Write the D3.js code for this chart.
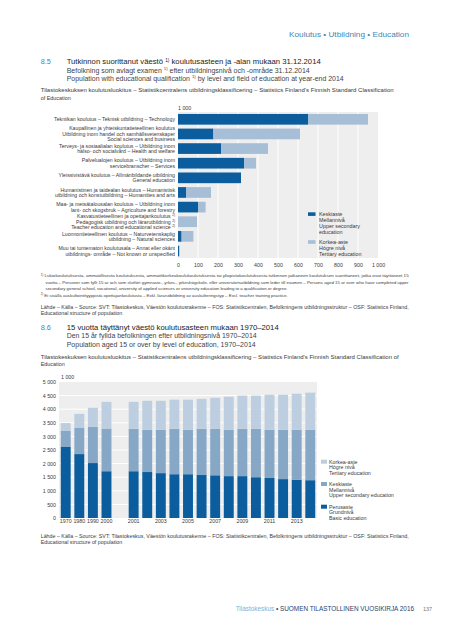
<!DOCTYPE html>
<html><head><meta charset="utf-8">
<script src="https://cdn.jsdelivr.net/npm/d3@7"></script>
<style>body{margin:0;background:#fff}svg{display:block}text{font-family:"Liberation Sans",Arial,sans-serif}</style>
</head><body><svg id="c" width="450" height="640"></svg>
<script>
// ---------- Chart 8.5 data (thousands) ----------
const fieldLabels = [
  ["Tekniikan koulutus – Teknisk utbildning – Technology"],
  ["Kaupallinen ja yhteiskuntatieteellinen koulutus","Utbildning inom handel och samhällsvetenskaper","Social sciences and business"],
  ["Terveys- ja sosiaalialan koulutus – Utbildning inom","hälso- och socialvård – Health and welfare"],
  ["Palvelualojen koulutus – Utbildning inom","servicebranscher – Services"],
  ["Yleissivistävä koulutus – Allmänbildande utbildning","General education"],
  ["Humanistinen ja taidealan koulutus – Humanistisk","utbildning och konstutbildning – Humanities and arts"],
  ["Maa- ja metsätalousalan koulutus – Utbildning inom","lant- och skogsbruk – Agriculture and forestry"],
  ["Kasvatustieteellinen ja opettajankoulutus {2)}","Pedagogisk utbildning och lärarutbildning {2)}","Teacher education and educational science {2)}"],
  ["Luonnontieteellinen koulutus – Naturvetenskaplig","utbildning – Natural sciences"],
  ["Muu tai tuntematon koulutusala – Annat eller okänt","utbildnings- område – Not known or unspecified"]
];
const upperSecondary85 = [650, 177, 215, 330, 315, 40, 100, 0, 18, 6];
const tertiary85       = [300, 433, 235, 60, 0, 125, 38, 95, 59, 0];
const xTicks85 = [0,100,200,300,400,500,600,700,800,900,1000];

// ---------- Chart 8.6 data (thousands) ----------
const years = ["1970","1980","1990","2000","2001","2002","2003","2004","2005","2006","2007","2008","2009","2010","2011","2012","2013","2014"];
const basic86    = [2610,2350,2020,1720,1720,1690,1650,1610,1610,1580,1570,1540,1540,1500,1470,1430,1400,1390];
const upper86    = [ 590, 960,1330,1570,1560,1550,1590,1670,1630,1700,1710,1700,1740,1780,1770,1810,1840,1850];
const tertiary86 = [ 290, 520, 700, 980, 990,1070,1070,1070,1110,1100,1140,1220,1220,1220,1290,1290,1330,1370];
const xTickLabels86 = ["1970","1980","1990","2000","2001","2003","2005","2007","2009","2011","2013"];
const yTicks86 = [0,500,1000,1500,2000,2500,3000,3500,4000,4500,5000];

const C = {dark:"#0b5d9d", mid:"#86a7c5", light:"#bccee0", light1:"#a6bed6", bg:"#eeeeee", text:"#3a3a3a", teal:"#3d88b8"};
const fmt = v => v >= 1000 ? d3.format(",")(v).replace(",", " ") : String(v);

const svg = d3.select("#c");

function txt(sel, x, y, s, o = {}) {
  const size = o.size || 5.3;
  const t = sel.append("text").attr("x", x).attr("y", y).attr("font-size", size)
    .attr("fill", o.fill || C.text).attr("text-anchor", o.anchor || "start");
  if (o.weight) t.attr("font-weight", o.weight);
  if (o.spacing) t.attr("letter-spacing", o.spacing);
  let pend = 0;
  s.split(/(\{[^}]*\})/).forEach(p => {
    if (!p) return;
    if (p.startsWith("{")) {
      t.append("tspan").attr("font-size", size * 0.62).attr("dy", pend - size * 0.38).text(p.slice(1, -1));
      pend = size * 0.38;
    } else {
      t.append("tspan").attr("dy", pend).text(p);
      pend = 0;
    }
  });
  if (o.len) t.attr("textLength", o.len).attr("lengthAdjust", "spacingAndGlyphs");
  return t;
}

// ---------- Header ----------
txt(svg, 409, 37, "Koulutus • Utbildning • Education", {size: 7, fill: C.teal, anchor: "end", len: 120});

// ---------- Section 8.5 ----------
txt(svg, 40.7, 64.3, "8.5", {size: 7.3, fill: C.teal});
txt(svg, 66.7, 64.3, "Tutkinnon suorittanut väestö {1)} koulutusasteen ja -alan mukaan 31.12.2014", {size: 7.3, fill: "#222", len: 254});
txt(svg, 66.7, 72.6, "Befolkning som avlagt examen {1)} efter utbildningsnivå och -område 31.12.2014", {size: 6.4, fill: "#444", len: 243});
txt(svg, 66.7, 80.6, "Population with educational qualification {1)} by level and field of education at year-end 2014", {size: 6.4, fill: "#444", len: 277});
txt(svg, 40.7, 92.2, "Tilastokeskuksen koulutusluokitus – Statistikcentralens utbildningsklassificering – Statistics Finland's Finnish Standard Classification", {size: 5.4, len: 353});
txt(svg, 40.7, 99.6, "of Education", {size: 5.4});

const g1 = svg.append("g");
const x1 = d3.scaleLinear().domain([0, 1000]).range([178, 378]);
const y1 = d3.scaleBand().domain(d3.range(fieldLabels.length)).range([112.5, 257.8]).paddingInner(0.27).paddingOuter(0.1);

g1.append("rect").attr("x", x1(0)).attr("y", 112).attr("width", x1(1000) - x1(0)).attr("height", 258 - 112).attr("fill", C.bg);
g1.selectAll("line.grid").data(xTicks85.slice(1, -1)).join("line").attr("class", "grid")
  .attr("x1", d => x1(d)).attr("x2", d => x1(d)).attr("y1", 112).attr("y2", 258)
  .attr("stroke", "#fff").attr("stroke-width", 1);

g1.selectAll("rect.up").data(upperSecondary85).join("rect").attr("class", "up")
  .attr("x", x1(0)).attr("y", (d, i) => y1(i)).attr("height", y1.bandwidth())
  .attr("width", d => x1(d) - x1(0)).attr("fill", C.dark);
g1.selectAll("rect.te").data(tertiary85).join("rect").attr("class", "te")
  .attr("x", (d, i) => x1(upperSecondary85[i])).attr("y", (d, i) => y1(i)).attr("height", y1.bandwidth())
  .attr("width", d => x1(d) - x1(0)).attr("fill", C.light1);

// category labels
fieldLabels.forEach((lines, i) => {
  const cy = y1(i) + y1.bandwidth() / 2;
  lines.forEach((l, j) => {
    txt(g1, 175, cy + (j - (lines.length - 1) / 2) * 5.4 + 1.85, l, {size: 5.2, anchor: "end"});
  });
});

// x axis
const ax1 = g1.append("g").attr("transform", "translate(0,263)")
  .call(d3.axisBottom(x1).tickValues(xTicks85).tickFormat(fmt).tickSize(0).tickPadding(0));
ax1.select(".domain").remove();
ax1.selectAll("text").attr("font-size", 5.3).attr("fill", C.text).attr("font-family", "Liberation Sans, Arial, sans-serif").attr("dy", "0.71em");
txt(g1, 178, 110, "1 000", {size: 5.3});

// legend 1
const leg1 = [
  {c: C.dark, lines: ["Keskiaste", "Mellannivå", "Upper secondary", "education"], y: 212.3},
  {c: C.light1, lines: ["Korkea-aste", "Högre nivå", "Tertiary education"], y: 240.2}
];
leg1.forEach(L => {
  g1.append("rect").attr("x", 308).attr("y", L.y).attr("width", 7.5).attr("height", 3.6).attr("fill", L.c);
  L.lines.forEach((l, j) => txt(g1, 319, L.y + 3.7 + j * 6.1, l, {size: 5.4}));
});

// footnotes
txt(svg, 40.7, 277.2, "{1)} Lukiokoulutuksesta, ammatillisesta koulutuksesta, ammattikorkeakoulukoulutuksesta tai yliopistokoulutuksesta tutkinnon jatkaneen koulutuksen suorittaneet, jotka ovat täyttäneet 15", {size: 4.3, len: 368});
txt(svg, 45.5, 284.2, "vuotta – Personer som fyllt 15 år och som slutfört gymnasie-, yrkes-, yrkeshögskole- eller universitetsutbildning som leder till examen – Persons aged 15 or over who have completed upper", {size: 4.3, len: 363});
txt(svg, 45.5, 289.8, "secondary general school, vocational, university of applied sciences or university education leading to a qualification or degree.", {size: 4.3, len: 242});
txt(svg, 40.7, 296.5, "{2)} Ei sisällä auskultointityyppistä opettajankoulutusta – Exkl. lärarutbildning av auskulteringstyp – Excl. teacher training practice.", {size: 4.3, len: 247});
txt(svg, 40.7, 308.6, "Lähde – Källa – Source: SVT: Tilastokeskus, Väestön koulutusrakenne – FOS: Statistikcentralen, Befolkningens utbildningsstruktur – OSF: Statistics Finland,", {size: 5.3, len: 368});
txt(svg, 40.7, 314.6, "Educational structure of population", {size: 5.3});

// ---------- Section 8.6 ----------
txt(svg, 40.7, 330, "8.6", {size: 7.3, fill: C.teal});
txt(svg, 66.7, 330, "15 vuotta täyttänyt väestö koulutusasteen mukaan 1970–2014", {size: 7.3, fill: "#222", len: 212});
txt(svg, 66.7, 338.3, "Den 15 år fyllda befolkningen efter utbildningsnivå 1970–2014", {size: 6.4, fill: "#444", len: 190});
txt(svg, 66.7, 347, "Population aged 15 or over by level of education, 1970–2014", {size: 6.4, fill: "#444", len: 189});
txt(svg, 40.7, 358.6, "Tilastokeskuksen koulutusluokitus – Statistikcentralens utbildningsklassificering – Statistics Finland's Finnish Standard Classification of", {size: 5.4, len: 358});
txt(svg, 40.7, 366.2, "Education", {size: 5.4});

const g2 = svg.append("g");
const domain86 = [...years.slice(0, 4), "__gap__", ...years.slice(4)];
const x2 = d3.scaleBand().domain(domain86).range([59, 317]).paddingInner(0.27).paddingOuter(0.13);
const y2 = d3.scaleLinear().domain([0, 5000]).range([518, 382]);

g2.append("rect").attr("x", 59).attr("y", y2(5000)).attr("width", 317 - 59).attr("height", y2(0) - y2(5000)).attr("fill", C.bg);
g2.selectAll("line.grid").data(yTicks86.slice(1, -1)).join("line").attr("class", "grid")
  .attr("x1", 59).attr("x2", 317).attr("y1", d => y2(d)).attr("y2", d => y2(d))
  .attr("stroke", "#fff").attr("stroke-width", 1);

const stackData = years.map((yr, i) => ({year: yr, basic: basic86[i], upper: upper86[i], tertiary: tertiary86[i]}));
const series = d3.stack().keys(["basic", "upper", "tertiary"])(stackData);
const col2 = {basic: C.dark, upper: C.mid, tertiary: C.light};
g2.selectAll("g.s").data(series).join("g").attr("class", "s").attr("fill", d => col2[d.key])
  .selectAll("rect").data(d => d).join("rect")
  .attr("x", d => x2(d.data.year)).attr("width", x2.bandwidth())
  .attr("y", d => y2(d[1])).attr("height", d => y2(d[0]) - y2(d[1]));

const ay2 = g2.append("g").attr("transform", "translate(56,0)")
  .call(d3.axisLeft(y2).tickValues(yTicks86).tickFormat(fmt).tickSize(0).tickPadding(0));
ay2.select(".domain").remove();
ay2.selectAll("text").attr("font-size", 5.3).attr("fill", C.text).attr("font-family", "Liberation Sans, Arial, sans-serif");

const ax2 = g2.append("g").attr("transform", "translate(0,519)")
  .call(d3.axisBottom(x2).tickValues(xTickLabels86).tickSize(0).tickPadding(0));
ax2.select(".domain").remove();
ax2.selectAll("text").attr("font-size", 5.3).attr("fill", C.text).attr("font-family", "Liberation Sans, Arial, sans-serif").attr("dy", "0.71em");
txt(g2, 61, 379, "1 000", {size: 5.3});

const leg2 = [
  {c: C.light, lines: ["Korkea-aste", "Högre nivå", "Tertiary education"], y: 459.7},
  {c: C.mid, lines: ["Keskiaste", "Mellannivå", "Upper secondary education"], y: 482},
  {c: C.dark, lines: ["Perusaste", "Grundnivå", "Basic education"], y: 504.7}
];
leg2.forEach(L => {
  g2.append("rect").attr("x", 321).attr("y", L.y).attr("width", 6).attr("height", 4).attr("fill", L.c);
  L.lines.forEach((l, j) => txt(g2, 329, L.y + 3.9 + j * 5.7, l, {size: 5.3}));
});

txt(svg, 40.7, 537.6, "Lähde – Källa – Source: SVT: Tilastokeskus, Väestön koulutusrakenne – FOS: Statistikcentralen, Befolkningens utbildningsstruktur – OSF: Statistics Finland,", {size: 5.3, len: 368});
txt(svg, 40.7, 544.2, "Educational structure of population", {size: 5.3});

// ---------- Footer ----------
const ft = svg.append("text").attr("x", 414).attr("y", 610.5).attr("text-anchor", "end").attr("font-size", 6.4)
  .attr("font-family", "Lato, 'Open Sans', sans-serif");
ft.append("tspan").attr("fill", "#7fb0d4").text("Tilastokeskus ");
ft.append("tspan").attr("fill", "#1d3f6f").text("• SUOMEN TILASTOLLINEN VUOSIKIRJA 2016");
txt(svg, 423, 610.5, "137", {size: 5.5, fill: "#777"});
</script></body></html>
